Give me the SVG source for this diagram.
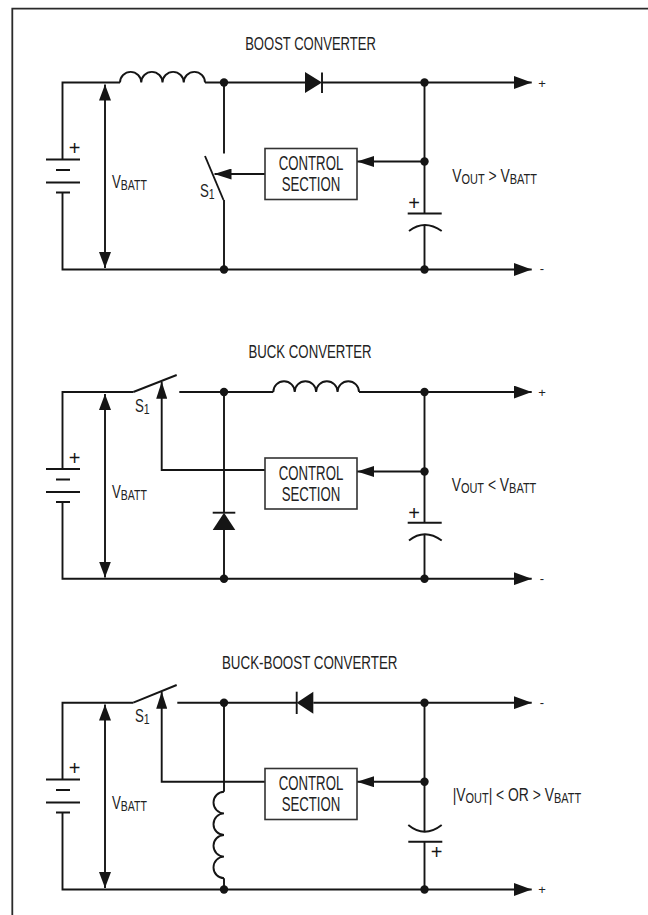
<svg xmlns="http://www.w3.org/2000/svg" width="648" height="915" viewBox="0 0 648 915">
<style>
.w{fill:none;stroke:#151515;stroke-width:1.9}
.f{fill:#151515;stroke:none}
.dot{fill:#151515}
.box{fill:#fff;stroke:#333;stroke-width:1.6}
.t{font-family:"Liberation Sans",Arial,sans-serif;font-size:19px;fill:#222}
.ti{font-size:18px}
.bx{font-size:20px}
.s{font-size:15px}
.pm{font-family:"Liberation Sans",Arial,sans-serif;font-size:13px;fill:#222}
.bp{font-family:"Liberation Sans",Arial,sans-serif;font-size:20px;fill:#151515}
</style>
<defs>
<marker id="aout" markerUnits="userSpaceOnUse" markerWidth="18" markerHeight="13" refX="18" refY="6.5" orient="auto"><path d="M0,0 L18,6.5 L0,13 z" fill="#151515"/></marker>
<marker id="actl" markerUnits="userSpaceOnUse" markerWidth="17" markerHeight="11" refX="17" refY="5.5" orient="auto"><path d="M0,0 L17,5.5 L0,11 z" fill="#151515"/></marker>
<marker id="avb" markerUnits="userSpaceOnUse" markerWidth="16" markerHeight="12" refX="16" refY="6" orient="auto-start-reverse"><path d="M0,0 L16,6 L0,12 z" fill="#151515"/></marker>
<g id="battery-sym">
<path class="w" d="M46,159.5 H80 M56,170 H70 M46,182.5 H80 M56,192.5 H70"/>
</g>
<path id="vbatt-arrow" class="w" d="M105,84.5 V268" marker-start="url(#avb)" marker-end="url(#avb)"/>
<g id="ctrl-box">
<rect class="box" x="265" y="148.5" width="92" height="51"/>
<text class="t bx" text-anchor="middle" transform="translate(311,170) scale(0.66,1)">CONTROL</text>
<text class="t bx" text-anchor="middle" transform="translate(311,191.3) scale(0.66,1)">SECTION</text>
</g>
</defs>

<path id="frame" d="M12.3,915 V8.7 H648" fill="none" stroke="#2a2a2a" stroke-width="1.8"/>

<!-- ================= BOOST ================= -->
<g id="boost">
<text id="boost-title" class="t ti" text-anchor="middle" transform="translate(310.5,50) scale(0.725,1)">BOOST CONVERTER</text>
<g id="boost-wires">
<path class="w" d="M62.5,159.5 V82.5 H120"/>
<path class="w" d="M205,82.5 H305"/>
<path class="w" d="M322,82.5 H531.7" marker-end="url(#aout)"/>
<path class="w" d="M62.5,192.5 V269.5 H531.7" marker-end="url(#aout)"/>
<path class="w" d="M224,82.5 V153.5"/>
<path class="w" d="M224,200 V269.5"/>
<path class="w" d="M265,174 H214.5" marker-end="url(#actl)"/>
<path class="w" d="M424.5,82.5 V213.5"/>
<path class="w" d="M424.5,225 V269.5"/>
<path class="w" d="M424.5,161.5 H357" marker-end="url(#actl)"/>
</g>
<g id="boost-battery">
<use href="#battery-sym"/>
<text class="bp" text-anchor="middle" x="74.7" y="155.3">+</text>
</g>
<g id="boost-vbatt">
<use href="#vbatt-arrow"/>
<text class="t" transform="translate(112,188) scale(0.7,1)">V<tspan class="s" dy="2">BATT</tspan></text>
</g>
<g id="boost-inductor">
<path class="w" d="M120,82.5 a10.625,10.625 0 0 1 21.25,0 a10.625,10.625 0 0 1 21.25,0 a10.625,10.625 0 0 1 21.25,0 a10.625,10.625 0 0 1 21.25,0"/>
</g>
<g id="boost-diode">
<path class="f" d="M305,72 L322,82.5 L305,93 z"/>
<path class="w" d="M322,72.5 V93"/>
</g>
<g id="boost-switch">
<path class="w" d="M205,156 L223.5,200"/>
<text class="t" transform="translate(200,196.7) scale(0.7,1)">S<tspan class="s" dy="2">1</tspan></text>
</g>
<g id="boost-control"><use href="#ctrl-box"/></g>
<g id="boost-cap">
<path class="w" d="M407.7,213.5 H441.7"/>
<path class="w" d="M409,231 Q424.5,219 441.7,231"/>
<text class="bp" text-anchor="middle" x="414" y="210">+</text>
</g>
<g id="boost-nodes">
<circle class="dot" cx="224" cy="82.5" r="4.2"/>
<circle class="dot" cx="424.5" cy="82.5" r="4.2"/>
<circle class="dot" cx="424.5" cy="161.5" r="4.2"/>
<circle class="dot" cx="224" cy="269.5" r="4.2"/>
<circle class="dot" cx="424.5" cy="269.5" r="4.2"/>
</g>
<g id="boost-labels">
<text class="t" transform="translate(452.3,181.7) scale(0.73,1)">V<tspan class="s" dy="2">OUT</tspan><tspan dy="-2"> &gt; V</tspan><tspan class="s" dy="2">BATT</tspan></text>
<text class="pm" text-anchor="middle" x="542" y="87.5">+</text>
<text class="pm" text-anchor="middle" x="542" y="273">-</text>
</g>
</g>

<!-- ================= BUCK ================= -->
<g id="buck" transform="translate(0,309.5)">
<text id="buck-title" class="t ti" text-anchor="middle" transform="translate(310,48.8) scale(0.735,1)">BUCK CONVERTER</text>
<g id="buck-wires">
<path class="w" d="M62.5,159.5 V82.5 H133.3"/>
<path class="w" d="M179.3,82.5 H273.3"/>
<path class="w" d="M359,82.5 H531.7" marker-end="url(#aout)"/>
<path class="w" d="M62.5,192.5 V269.2 H531.7" marker-end="url(#aout)"/>
<path class="w" d="M224,82.5 V203.2"/>
<path class="w" d="M224,220.5 V269.2"/>
<path class="w" d="M265,160.5 H161.7 V72.2" marker-end="url(#actl)"/>
<path class="w" d="M424.5,82.5 V213.3"/>
<path class="w" d="M424.5,224.7 V269.2"/>
<path class="w" d="M424.5,162 H357" marker-end="url(#actl)"/>
</g>
<g id="buck-battery">
<use href="#battery-sym"/>
<text class="bp" text-anchor="middle" x="74.7" y="155.3">+</text>
</g>
<g id="buck-vbatt">
<use href="#vbatt-arrow"/>
<text class="t" transform="translate(112,188.5) scale(0.7,1)">V<tspan class="s" dy="2">BATT</tspan></text>
</g>
<g id="buck-switch">
<path class="w" d="M133.3,82.5 L176.7,65.5"/>
<text class="t" transform="translate(135,102.2) scale(0.7,1)">S<tspan class="s" dy="2">1</tspan></text>
</g>
<g id="buck-inductor">
<path class="w" d="M273.3,82.5 a10.71,10.71 0 0 1 21.42,0 a10.71,10.71 0 0 1 21.42,0 a10.71,10.71 0 0 1 21.42,0 a10.71,10.71 0 0 1 21.42,0"/>
</g>
<g id="buck-diode">
<path class="f" d="M224,203.2 L235.3,220.5 L212.7,220.5 z"/>
<path class="w" d="M212.7,203.2 H235.3"/>
</g>
<g id="buck-control"><use href="#ctrl-box"/></g>
<g id="buck-cap">
<path class="w" d="M407.7,213.3 H441.7"/>
<path class="w" d="M409,231 Q424.5,218.5 441.7,231"/>
<text class="bp" text-anchor="middle" x="414" y="210">+</text>
</g>
<g id="buck-nodes">
<circle class="dot" cx="224" cy="82.5" r="4.2"/>
<circle class="dot" cx="424.5" cy="82.5" r="4.2"/>
<circle class="dot" cx="424.5" cy="162" r="4.2"/>
<circle class="dot" cx="224" cy="269.2" r="4.2"/>
<circle class="dot" cx="424.5" cy="269.2" r="4.2"/>
</g>
<g id="buck-labels">
<text class="t" transform="translate(451.7,181.5) scale(0.73,1)">V<tspan class="s" dy="2">OUT</tspan><tspan dy="-2"> &lt; V</tspan><tspan class="s" dy="2">BATT</tspan></text>
<text class="pm" text-anchor="middle" x="542" y="87.5">+</text>
<text class="pm" text-anchor="middle" x="542" y="273">-</text>
</g>
</g>

<!-- ================= BUCK-BOOST ================= -->
<g id="buckboost" transform="translate(0,620)">
<text id="buckboost-title" class="t ti" text-anchor="middle" transform="translate(309.7,49.3) scale(0.743,1)">BUCK-BOOST CONVERTER</text>
<g id="buckboost-wires">
<path class="w" d="M62.5,159.5 V82.7 H133.3"/>
<path class="w" d="M177.3,82.7 H296.7"/>
<path class="w" d="M313.3,82.7 H531.7" marker-end="url(#aout)"/>
<path class="w" d="M62.5,192.5 V269.5 H531.7" marker-end="url(#aout)"/>
<path class="w" d="M224,82.7 V171.7"/>
<path class="w" d="M224,258.3 V269.5"/>
<path class="w" d="M265,161.7 H161.7 V71.7" marker-end="url(#actl)"/>
<path class="w" d="M424.5,82.7 V211.7"/>
<path class="w" d="M424.5,221.7 V269.5"/>
<path class="w" d="M424.5,161.7 H357" marker-end="url(#actl)"/>
</g>
<g id="buckboost-battery">
<use href="#battery-sym"/>
<text class="bp" text-anchor="middle" x="74.7" y="155.3">+</text>
</g>
<g id="buckboost-vbatt">
<use href="#vbatt-arrow"/>
<text class="t" transform="translate(112,188.5) scale(0.7,1)">V<tspan class="s" dy="2">BATT</tspan></text>
</g>
<g id="buckboost-switch">
<path class="w" d="M133.3,82.7 L176.7,65"/>
<text class="t" transform="translate(135,101.7) scale(0.7,1)">S<tspan class="s" dy="2">1</tspan></text>
</g>
<g id="buckboost-diode">
<path class="f" d="M296.7,82.7 L313.3,71.7 L313.3,93.7 z"/>
<path class="w" d="M296.7,71.7 V94"/>
</g>
<g id="buckboost-inductor">
<path class="w" d="M224,171.7 a10.83,10.83 0 0 0 0,21.65 a10.83,10.83 0 0 0 0,21.65 a10.83,10.83 0 0 0 0,21.65 a10.83,10.83 0 0 0 0,21.65"/>
</g>
<g id="buckboost-control"><use href="#ctrl-box"/></g>
<g id="buckboost-cap">
<path class="w" d="M408.3,205 Q424.5,218.4 441.7,205"/>
<path class="w" d="M408.3,221.7 H442.3"/>
<text class="bp" text-anchor="middle" x="436.7" y="238.7">+</text>
</g>
<g id="buckboost-nodes">
<circle class="dot" cx="224" cy="82.7" r="4.2"/>
<circle class="dot" cx="424.5" cy="82.7" r="4.2"/>
<circle class="dot" cx="424.5" cy="161.7" r="4.2"/>
<circle class="dot" cx="224" cy="269.5" r="4.2"/>
<circle class="dot" cx="424.5" cy="269.5" r="4.2"/>
</g>
<g id="buckboost-labels">
<text class="t" transform="translate(452.7,181) scale(0.73,1)">|V<tspan class="s" dy="2">OUT</tspan><tspan dy="-2">| &lt; OR &gt; V</tspan><tspan class="s" dy="2">BATT</tspan></text>
<text class="pm" text-anchor="middle" x="542" y="86.5">-</text>
<text class="pm" text-anchor="middle" x="542" y="274">+</text>
</g>
</g>
</svg>
